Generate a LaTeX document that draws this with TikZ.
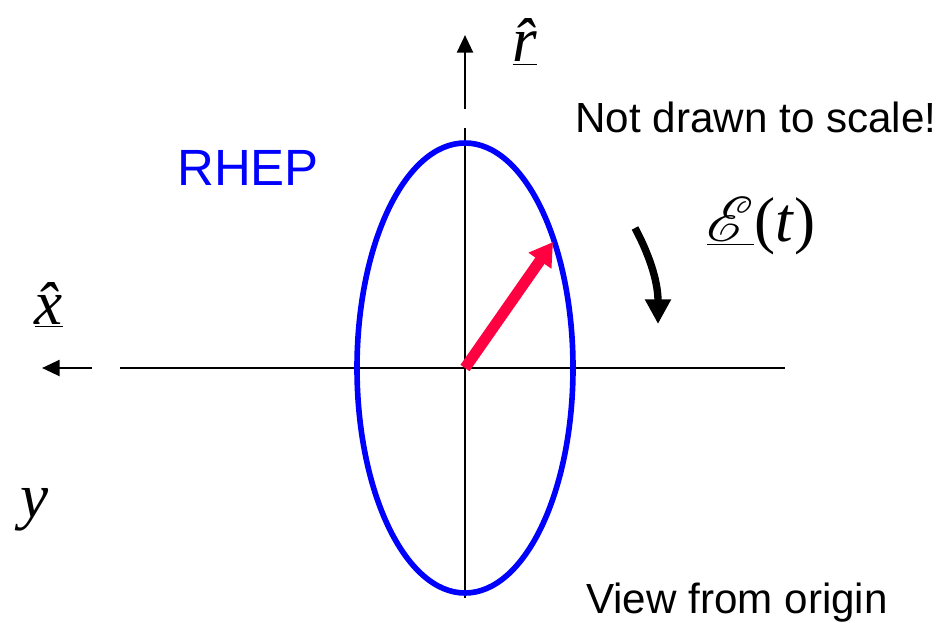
\documentclass[tikz,border=0pt]{standalone}
\usepackage{fontspec}
\usepackage{mathrsfs}
\setmainfont{Liberation Serif}
\newfontfamily\arialf{Liberation Sans}
\usetikzlibrary{arrows.meta}
\definecolor{azulRHEP}{HTML}{0000FF}
\definecolor{rojoCampo}{HTML}{FF0040}

\begin{document}
\begin{tikzpicture}[
    x=0.02cm, y=-0.02cm,
    eje/.style={line width=1.5pt, black},
    flechaeje/.style={-{Triangle[length=10pt, width=9pt]}, line width=1.5pt},
    rotulo/.style={font=\arialf\fontsize{24}{28}\selectfont, inner sep=0pt, anchor=base},
    titulo/.style={font=\arialf\fontsize{29}{34}\selectfont, inner sep=0pt, anchor=base, text=azulRHEP},
    vector/.style={font=\fontsize{36}{40}\selectfont\itshape, inner sep=0pt}
]
    \useasboundingbox (0,0) rectangle (949,622);

    % puntos de los ejes
    \coordinate (O) at (465,368);
    \coordinate (ejeIzq) at (120,368);
    \coordinate (ejeDer) at (785,368);
    \coordinate (ejeArriba) at (465,128);
    \coordinate (ejeAbajo) at (465,598);
    \coordinate (rBase) at (465,109);
    \coordinate (rPunta) at (465,35);
    \coordinate (xBase) at (92,368);
    \coordinate (xPunta) at (42,368);
    \coordinate (campo) at (553,242);
    \coordinate (giroIni) at (635,228);
    \coordinate (giroFin) at (658,324);

    % ejes
    \draw[eje] (ejeIzq) -- (ejeDer);
    \draw[eje] (ejeAbajo) -- (ejeArriba);
    \draw[flechaeje] (rBase) -- (rPunta);
    \draw[flechaeje] (xBase) -- (xPunta);

    % elipse y campo
    \draw[azulRHEP, line width=3.2pt] (O) ellipse [x radius=108, y radius=225];
    \draw[rojoCampo, line width=6.3pt, -{Triangle[length=13pt, width=15pt]}] (O) -- (campo);
    \draw[line width=4.2pt, -{Triangle[length=14pt, width=14pt]}] (giroIni) .. controls (652,260) and (658,285) .. (giroFin);

    % textos
    \node[vector] (xhat) at (49,305) {\underline{\^{x}}};
    \node[vector] (rhat) at (525,42) {\underline{\^{r}}};
    \node[vector] (ylab) at (35,510) {y};
    \node[font=\fontsize{36}{40}\selectfont, inner sep=0pt] (campoLab) at (761,226) {\underline{\scalebox{1.45}{$\mathscr{E}$}}(\textit{t})};
    \node[titulo] (rhep) at (248,185) {RHEP};
    \node[rotulo] (escala) at (756,132) {Not drawn to scale!};
    \node[rotulo] (vista) at (737,613) {View from origin};
\end{tikzpicture}
\end{document}
